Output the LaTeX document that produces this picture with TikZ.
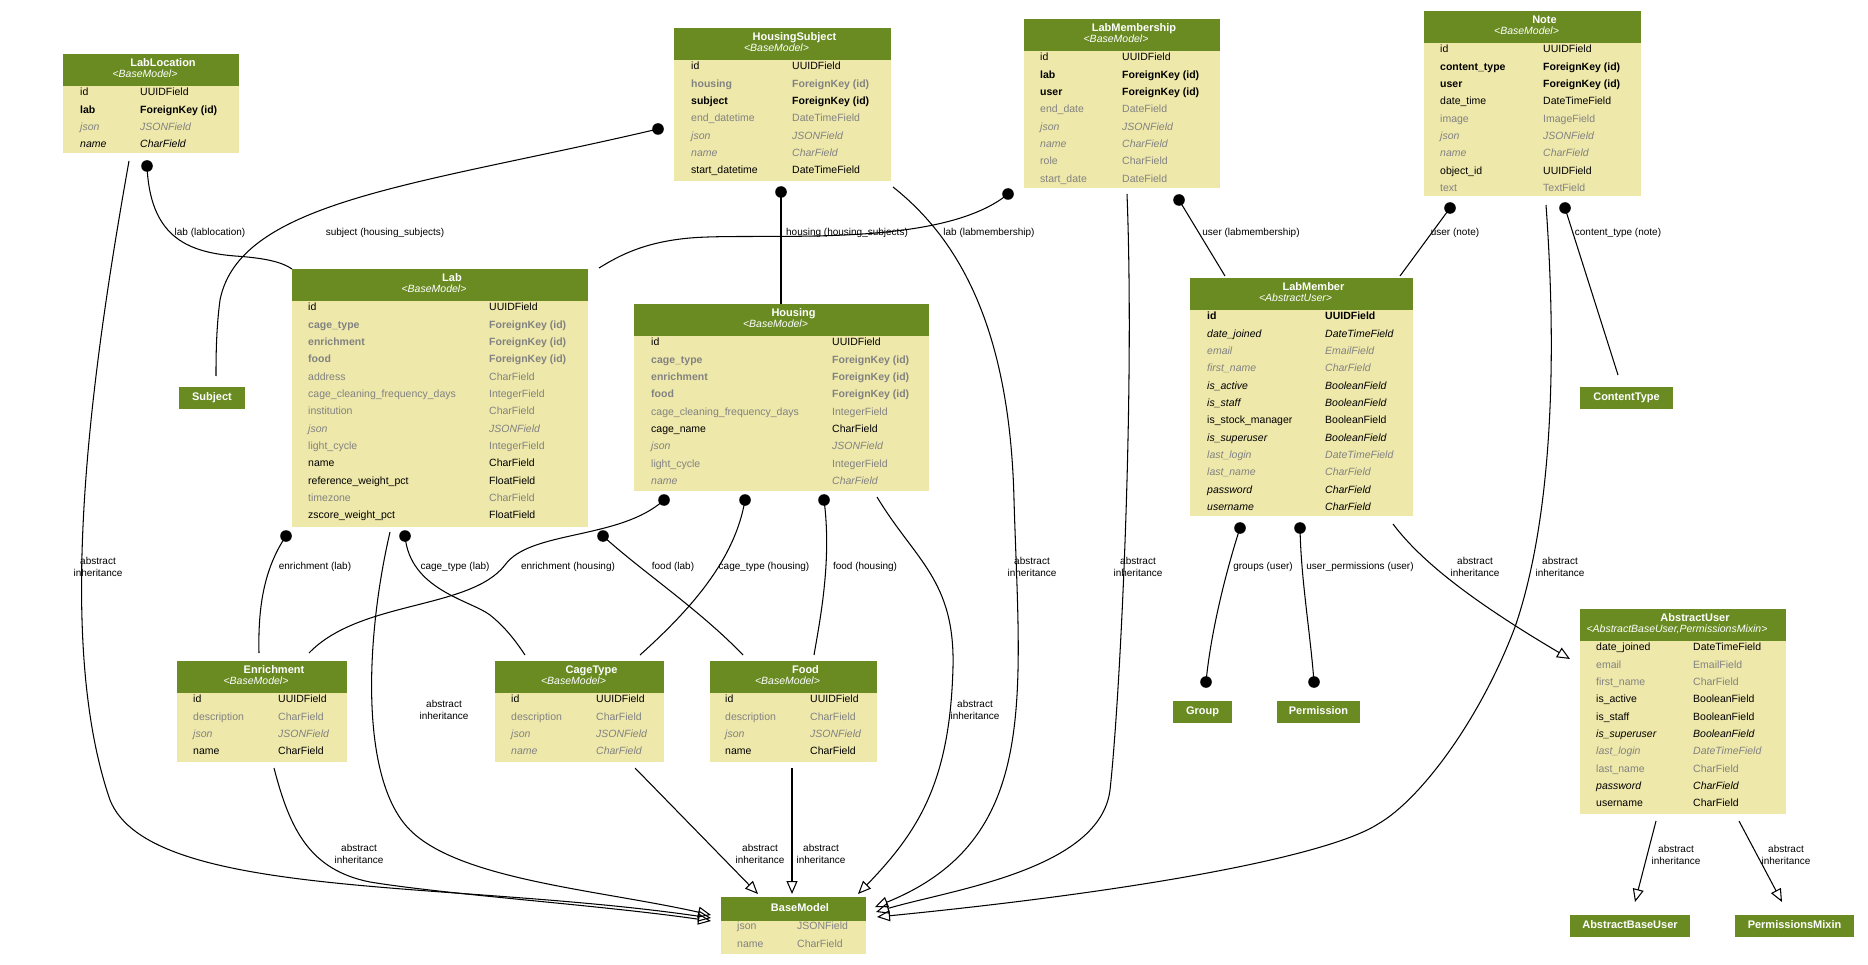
\documentclass[tikz,border=0pt]{standalone}
\usepackage{fontspec}
\setmainfont{Liberation Sans}
\usetikzlibrary{arrows.meta}
\definecolor{hdr}{HTML}{698B22}
\definecolor{bdy}{HTML}{EEE8AA}
\definecolor{gtx}{HTML}{828282}
\newcommand\rowfont{\fontsize{10.5}{12}\selectfont}
\newcommand\ttlfont{\fontsize{11}{12}\selectfont\bfseries}
\newcommand\subfont{\fontsize{10.5}{12}\selectfont\itshape}
\tikzset{
  bodybox/.style={anchor=north west, fill=bdy, inner sep=0pt, outer sep=0pt},
  headbox/.style={anchor=north west, fill=hdr, inner sep=0pt, outer sep=0pt},
  ttl/.style={text=white, font=\ttlfont, inner sep=0pt, text height=8pt, text depth=2.5pt},
  subttl/.style={text=white, font=\subfont, inner sep=0pt, text height=8pt, text depth=2.5pt},
  rt/.style={anchor=west, inner sep=0pt, text height=7.5pt, text depth=2pt, font=\rowfont},
  rn/.style={rt},
  rb/.style={rt, font=\rowfont\bfseries},
  rg/.style={rt, text=gtx},
  rgb/.style={rt, text=gtx, font=\rowfont\bfseries},
  ri/.style={rt, font=\rowfont\itshape},
  rgi/.style={rt, text=gtx, font=\rowfont\itshape},
  elabel/.style={font=\fontsize{10}{11.7}\selectfont, align=center, inner sep=0pt},
  conn/.style={draw=black, line width=1.05pt},
  inh/.style={conn, -{Triangle[open, length=13pt, width=11pt, line width=1.05pt]}},
  fkdot/.style={fill=black},
}
\newcommand\model[8]{%
  \pgfmathsetmacro\bw{#4-#2}%
  \pgfmathsetmacro\hh{#5-#3}%
  \pgfmathsetmacro\bh{#6-#5}%
  \pgfmathsetmacro\cx{(#2+#4)/2}%
  \node[bodybox, minimum width=\bw pt, minimum height=\bh pt] (#1) at (#2,#5) {};
  \node[headbox, minimum width=\bw pt, minimum height=\hh pt] (#1-h) at (#2,#3) {};
  \node[ttl] (#1-t) at (\cx+12,#3+9.5) {#7};
  \node[subttl] (#1-s) at (\cx-6,#3+21) {#8};
}
\newcommand\rows[5]{%
  \foreach \xs/\xa/\xt [count=\k from 0] in {#5} {%
    \pgfmathsetmacro\yy{#4+7+\k*17.33}%
    \node[\xs] (#1-n\k) at (#2,\yy) {\xa};
    \node[\xs] (#1-v\k) at (#3,\yy) {\xt};
  }}
\newcommand\simple[6]{%
  \pgfmathsetmacro\bw{#4-#2}%
  \pgfmathsetmacro\bh{#5-#3}%
  \node[headbox, minimum width=\bw pt, minimum height=\bh pt, ttl, anchor=north west] (#1) at (#2,#3) {#6};
}
\begin{document}
\begin{tikzpicture}[x=1pt, y=-1pt]
\path[use as bounding box, fill=white] (0,0) rectangle (1868,965);

% ---------- tables ----------
\model{lablocation}{63}{54}{239}{86}{153}{LabLocation}{<BaseModel>}
\rows{lablocation}{80}{140}{86}{rn/id/UUIDField, rb/lab/ForeignKey (id), rgi/json/JSONField, ri/name/CharField}

\model{housingsubject}{674}{28}{891}{60}{181}{HousingSubject}{<BaseModel>}
\rows{housingsubject}{691}{792}{60}{rn/id/UUIDField, rgb/housing/ForeignKey (id), rb/subject/ForeignKey (id), rg/end\_datetime/DateTimeField, rgi/json/JSONField, rgi/name/CharField, rn/start\_datetime/DateTimeField}

\model{labmembership}{1024}{19}{1220}{51}{188}{LabMembership}{<BaseModel>}
\rows{labmembership}{1040}{1122}{51}{rn/id/UUIDField, rb/lab/ForeignKey (id), rb/user/ForeignKey (id), rg/end\_date/DateField, rgi/json/JSONField, rgi/name/CharField, rg/role/CharField, rg/start\_date/DateField}

\model{note}{1424}{11}{1641}{43}{196}{Note}{<BaseModel>}
\rows{note}{1440}{1543}{43}{rn/id/UUIDField, rb/content\_type/ForeignKey (id), rb/user/ForeignKey (id), rn/date\_time/DateTimeField, rg/image/ImageField, rgi/json/JSONField, rgi/name/CharField, rn/object\_id/UUIDField, rg/text/TextField}

\model{lab}{292}{269}{588}{301}{527}{Lab}{<BaseModel>}
\rows{lab}{308}{489}{301}{rn/id/UUIDField, rgb/cage\_type/ForeignKey (id), rgb/enrichment/ForeignKey (id), rgb/food/ForeignKey (id), rg/address/CharField, rg/cage\_cleaning\_frequency\_days/IntegerField, rg/institution/CharField, rgi/json/JSONField, rg/light\_cycle/IntegerField, rn/name/CharField, rn/reference\_weight\_pct/FloatField, rg/timezone/CharField, rn/zscore\_weight\_pct/FloatField}

\model{housing}{634}{304}{929}{336}{491}{Housing}{<BaseModel>}
\rows{housing}{651}{832}{336}{rn/id/UUIDField, rgb/cage\_type/ForeignKey (id), rgb/enrichment/ForeignKey (id), rgb/food/ForeignKey (id), rg/cage\_cleaning\_frequency\_days/IntegerField, rn/cage\_name/CharField, rgi/json/JSONField, rg/light\_cycle/IntegerField, rgi/name/CharField}

\model{labmember}{1190}{278}{1413}{310}{516}{LabMember}{<AbstractUser>}
\rows{labmember}{1207}{1325}{310}{rb/id/UUIDField, ri/date\_joined/DateTimeField, rgi/email/EmailField, rgi/first\_name/CharField, ri/is\_active/BooleanField, ri/is\_staff/BooleanField, rn/is\_stock\_manager/BooleanField, ri/is\_superuser/BooleanField, rgi/last\_login/DateTimeField, rgi/last\_name/CharField, ri/password/CharField, ri/username/CharField}

\model{abstractuser}{1580}{609}{1786}{641}{814}{AbstractUser}{<AbstractBaseUser,PermissionsMixin>}
\rows{abstractuser}{1596}{1693}{641}{rn/date\_joined/DateTimeField, rg/email/EmailField, rg/first\_name/CharField, rn/is\_active/BooleanField, rn/is\_staff/BooleanField, ri/is\_superuser/BooleanField, rgi/last\_login/DateTimeField, rg/last\_name/CharField, ri/password/CharField, rn/username/CharField}

\model{enrichment}{177}{661}{347}{693}{762}{Enrichment}{<BaseModel>}
\rows{enrichment}{193}{278}{693}{rn/id/UUIDField, rg/description/CharField, rgi/json/JSONField, rn/name/CharField}

\model{cagetype}{495}{661}{664}{693}{762}{CageType}{<BaseModel>}
\rows{cagetype}{511}{596}{693}{rn/id/UUIDField, rg/description/CharField, rgi/json/JSONField, rgi/name/CharField}

\model{food}{710}{661}{877}{693}{762}{Food}{<BaseModel>}
\rows{food}{725}{810}{693}{rn/id/UUIDField, rg/description/CharField, rgi/json/JSONField, rn/name/CharField}

% BaseModel (title only header)
\node[bodybox, minimum width=145pt, minimum height=33pt] (basemodel) at (721,921) {};
\node[headbox, minimum width=145pt, minimum height=24pt] (basemodel-h) at (721,897) {};
\node[ttl] (basemodel-t) at (800,909) {BaseModel};
\rows{basemodel}{737}{797}{920}{rg/json/JSONField, rg/name/CharField}

% simple boxes
\simple{subject}{179}{387}{245}{409}{Subject}
\simple{contenttype}{1580}{387}{1673}{409}{ContentType}
\simple{group}{1173}{701}{1232}{723}{Group}
\simple{permission}{1277}{701}{1360}{723}{Permission}
\simple{abstractbaseuser}{1570}{915}{1690}{937}{AbstractBaseUser}
\simple{permissionsmixin}{1735}{915}{1854}{937}{PermissionsMixin}

% ---------- connector end points ----------
\coordinate (f1a) at (147,166);  \coordinate (f1b) at (292,269);
\coordinate (f2a) at (658,129);  \coordinate (f2b) at (216,376);
\coordinate (f3a) at (781,192);  \coordinate (f3b) at (781,304);
\coordinate (f4a) at (1008,194); \coordinate (f4b) at (599,268);
\coordinate (f5a) at (1179,200); \coordinate (f5b) at (1225,276);
\coordinate (f6a) at (1450,208); \coordinate (f6b) at (1400,276);
\coordinate (f7a) at (1565,208); \coordinate (f7b) at (1618,375);
\coordinate (f8a) at (286,536);  \coordinate (f8b) at (259,653);
\coordinate (f9a) at (405,536);  \coordinate (f9b) at (525,655);
\coordinate (f10a) at (664,500); \coordinate (f10b) at (309,653);
\coordinate (f11a) at (603,536); \coordinate (f11b) at (743,655);
\coordinate (f12a) at (745,500); \coordinate (f12b) at (640,655);
\coordinate (f13a) at (824,500); \coordinate (f13b) at (814,655);
\coordinate (f14a) at (1240,528); \coordinate (f14b) at (1206,682);
\coordinate (f15a) at (1300,528); \coordinate (f15b) at (1314,682);

\coordinate (i1a) at (129,161);  \coordinate (i1b) at (711,918);
\coordinate (i2a) at (390,532);  \coordinate (i2b) at (711,915);
\coordinate (i3a) at (274,768);  \coordinate (i3b) at (711,921);
\coordinate (i4a) at (635,768);  \coordinate (i4b) at (758,894);
\coordinate (i5a) at (792,768);  \coordinate (i5b) at (792,894);
\coordinate (i6a) at (877,497);  \coordinate (i6b) at (858,894);
\coordinate (i7a) at (893,187);  \coordinate (i7b) at (875,907);
\coordinate (i8a) at (1127,194); \coordinate (i8b) at (876,912);
\coordinate (i9a) at (1546,205); \coordinate (i9b) at (877,917);
\coordinate (i10a) at (1393,524); \coordinate (i10b) at (1570,659);
\coordinate (i11a) at (1656,821); \coordinate (i11b) at (1635,902);
\coordinate (i12a) at (1739,821); \coordinate (i12b) at (1782,902);

% ---------- foreign-key connectors ----------
\draw[conn] (f1a) .. controls (150,235) and (185,252) .. (235,256) .. controls (265,258) and (282,262) .. (f1b);
\draw[conn] (f2a) .. controls (420,185) and (240,200) .. (220,300) .. controls (216,330) and (216,360) .. (f2b);
\draw[conn] (f3a) -- (f3b);
\draw[conn] (f4a) .. controls (940,250) and (760,232) .. (690,238) .. controls (645,242) and (620,255) .. (f4b);
\draw[conn] (f5a) -- (f5b);
\draw[conn] (f6a) -- (f6b);
\draw[conn] (f7a) -- (f7b);
\draw[conn] (f8a) .. controls (263,570) and (258,610) .. (f8b);
\draw[conn] (f9a) .. controls (410,590) and (470,600) .. (490,615) .. controls (505,627) and (515,640) .. (f9b);
\draw[conn] (f10a) .. controls (620,540) and (530,530) .. (505,565) .. controls (470,610) and (360,600) .. (f10b);
\draw[conn] (f11a) .. controls (640,570) and (700,610) .. (f11b);
\draw[conn] (f12a) .. controls (735,560) and (690,610) .. (f12b);
\draw[conn] (f13a) .. controls (832,560) and (820,620) .. (f13b);
\draw[conn] (f14a) .. controls (1227,568) and (1211,630) .. (f14b);
\draw[conn] (f15a) .. controls (1301,580) and (1310,630) .. (f15b);
\foreach \d in {f1a,f2a,f3a,f4a,f5a,f6a,f7a,f8a,f9a,f10a,f11a,f12a,f13a,f14a,f14b,f15a,f15b}
  \fill[fkdot] (\d) circle[radius=5.8];

% ---------- inheritance connectors ----------
\draw[inh] (i1a) .. controls (90,380) and (55,640) .. (110,800) .. controls (150,900) and (450,880) .. (i1b);
\draw[inh] (i2a) .. controls (365,640) and (360,780) .. (410,830) .. controls (460,880) and (600,890) .. (i2b);
\draw[inh] (i3a) .. controls (290,830) and (310,870) .. (370,882) .. controls (450,895) and (600,905) .. (i3b);
\draw[inh] (i4a) -- (i4b);
\draw[inh] (i5a) -- (i5b);
\draw[inh] (i6a) .. controls (915,560) and (955,580) .. (953,667) .. controls (950,780) and (920,830) .. (i6b);
\draw[inh] (i7a) .. controls (960,240) and (1010,330) .. (1014,500) .. controls (1020,700) and (1040,840) .. (i7b);
\draw[inh] (i8a) .. controls (1135,400) and (1120,700) .. (1110,790) .. controls (1100,870) and (950,890) .. (i8b);
\draw[inh] (i9a) .. controls (1560,400) and (1545,540) .. (1515,627) .. controls (1480,720) and (1420,800) .. (1378,824) .. controls (1330,855) and (1150,890) .. (i9b);
\draw[inh] (i10a) .. controls (1420,560) and (1470,600) .. (i10b);
\draw[inh] (i11a) -- (i11b);
\draw[inh] (i12a) -- (i12b);

% ---------- labels ----------
\node[elabel] (l1) at (210,233) {lab (lablocation)};
\node[elabel] (l2) at (385,233) {subject (housing\_subjects)};
\node[elabel] (l3) at (847,233) {housing (housing\_subjects)};
\node[elabel] (l4) at (989,233) {lab (labmembership)};
\node[elabel] (l5) at (1251,233) {user (labmembership)};
\node[elabel] (l6) at (1455,233) {user (note)};
\node[elabel] (l7) at (1618,233) {content\_type (note)};
\node[elabel] (l8) at (98,567) {abstract\\inheritance};
\node[elabel] (l9) at (315,567) {enrichment (lab)};
\node[elabel] (l10) at (455,567) {cage\_type (lab)};
\node[elabel] (l11) at (568,567) {enrichment (housing)};
\node[elabel] (l12) at (673,567) {food (lab)};
\node[elabel] (l13) at (764,567) {cage\_type (housing)};
\node[elabel] (l14) at (865,567) {food (housing)};
\node[elabel] (l15) at (1032,567) {abstract\\inheritance};
\node[elabel] (l16) at (1138,567) {abstract\\inheritance};
\node[elabel] (l17) at (1263,567) {groups (user)};
\node[elabel] (l18) at (1360,567) {user\_permissions (user)};
\node[elabel] (l19) at (1475,567) {abstract\\inheritance};
\node[elabel] (l20) at (1560,567) {abstract\\inheritance};
\node[elabel] (l21) at (444,710) {abstract\\inheritance};
\node[elabel] (l22) at (975,710) {abstract\\inheritance};
\node[elabel] (l23) at (359,854) {abstract\\inheritance};
\node[elabel] (l24) at (760,854) {abstract\\inheritance};
\node[elabel] (l25) at (821,854) {abstract\\inheritance};
\node[elabel] (l26) at (1676,855) {abstract\\inheritance};
\node[elabel] (l27) at (1786,855) {abstract\\inheritance};
\end{tikzpicture}
\end{document}
